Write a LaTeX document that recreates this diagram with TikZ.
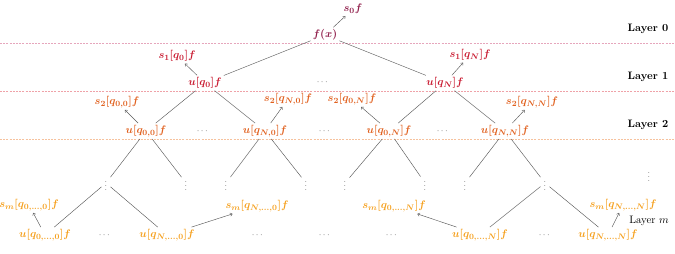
\documentclass[tikz,border=0pt]{standalone}
\usepackage{amsmath,amssymb,bm}
\usetikzlibrary{arrows.meta}

\definecolor{lzero}{HTML}{8E1B48}
\definecolor{lone}{HTML}{C8192F}
\definecolor{ltwo}{HTML}{E0601E}
\definecolor{lm}{HTML}{F5A01E}
\definecolor{sepzero}{HTML}{E6A6BC}
\definecolor{sepone}{HTML}{EFA2A8}
\definecolor{septwo}{HTML}{F6C29E}

\newcommand{\bigf}{\fontsize{10.8}{13}\selectfont}

\begin{document}
\begin{tikzpicture}[
    x=1pt, y=-1pt,
    >={To[length=2.4pt,width=3.6pt]},
    every node/.style={inner sep=2pt},
    lz/.style={text=lzero, font=\bigf\boldmath},
    lo/.style={text=lone, font=\bigf\boldmath},
    lt/.style={text=ltwo, font=\bigf\boldmath},
    lmm/.style={text=lm, font=\bigf\boldmath},
    dd/.style={text=black!70, font=\small, inner sep=0pt},
    vd/.style={text=black!70, font=\small, inner sep=3pt},
    lab/.style={font=\bigf\bfseries},
    link/.style={draw=black!65, line width=0.45pt},
    sepline/.style={dash pattern=on 2pt off 1.2pt, line width=0.5pt}
]
\useasboundingbox (0,0) rectangle (675,254);

% separators
\draw[sepline, sepzero] (0,43) -- (675,43);
\draw[sepline, sepone]  (0,91) -- (675,91);
\draw[sepline, septwo]  (0,139) -- (675,139);

% layer 0
\node[lz] (s0) at (353,9)  {$s_0 f$};
\node[lz] (fx) at (325,35) {$f(x)$};

% layer 1
\node[lo] (s1a) at (177,56) {$s_1[q_0]f$};
\node[lo] (ua)  at (205,83) {$u[q_0]f$};
\node[dd] (d1)  at (323,82) {$\cdots$};
\node[lo] (s1b) at (470,55) {$s_1[q_N]f$};
\node[lo] (ub)  at (445,83) {$u[q_N]f$};

% layer 2
\node[lt] (s2aa) at (117,102) {$s_2[q_{0,0}]f$};
\node[lt] (s2na) at (288,99)  {$s_2[q_{N,0}]f$};
\node[lt] (s2an) at (352,99)  {$s_2[q_{0,N}]f$};
\node[lt] (s2nn) at (532,102) {$s_2[q_{N,N}]f$};
\node[lt] (uaa) at (146,131) {$u[q_{0,0}]f$};
\node[dd] (d2)  at (203,131) {$\cdots$};
\node[lt] (una) at (265,131) {$u[q_{N,0}]f$};
\node[dd] (d3)  at (325,131) {$\cdots$};
\node[lt] (uan) at (389,131) {$u[q_{0,N}]f$};
\node[dd] (d4)  at (443,131) {$\cdots$};
\node[lt] (unn) at (505,131) {$u[q_{N,N}]f$};

% vertical dots
\node[vd] (v1) at (106,183) {$\vdots$};
\node[vd] (v2) at (186,183) {$\vdots$};
\node[vd] (v3) at (226,183) {$\vdots$};
\node[vd] (v4) at (306,183) {$\vdots$};
\node[vd] (v5) at (345,183) {$\vdots$};
\node[vd] (v6) at (425,183) {$\vdots$};
\node[vd] (v7) at (465,183) {$\vdots$};
\node[vd] (v8) at (545,183) {$\vdots$};
\node[vd] (v9) at (649,174) {$\vdots$};

% layer m
\node[lmm] (smaa) at (29,205)  {$s_m[q_{0,\dots,0}]f$};
\node[lmm] (smna) at (257,206) {$s_m[q_{N,\dots,0}]f$};
\node[lmm] (sman) at (394,206) {$s_m[q_{0,\dots,N}]f$};
\node[lmm] (smnn) at (623,205) {$s_m[q_{N,\dots,N}]f$};
\node[lmm] (wa) at (45,235)  {$u[q_{0,\dots,0}]f$};
\node[dd]  (d5) at (105,235) {$\cdots$};
\node[lmm] (wb) at (167,235) {$u[q_{N,\dots,0}]f$};
\node[dd]  (d6) at (258,235) {$\cdots$};
\node[dd]  (d7) at (325,235) {$\cdots$};
\node[dd]  (d8) at (392,235) {$\cdots$};
\node[lmm] (wc) at (480,235) {$u[q_{0,\dots,N}]f$};
\node[dd]  (d9) at (545,235) {$\cdots$};
\node[lmm] (wd) at (608,235) {$u[q_{N,\dots,N}]f$};

% layer labels
\node[lab] (L0) at (648,29)  {Layer 0};
\node[lab] (L1) at (648,77)  {Layer 1};
\node[lab] (L2) at (648,125) {Layer 2};
\node[font=\bigf] (Lm) at (649,221) {Layer $m$};

% tree
\draw[link] (fx) -- (ua);
\draw[link] (fx) -- (ub);
\draw[link] (ua) -- (uaa);
\draw[link] (ua) -- (una);
\draw[link] (ub) -- (uan);
\draw[link] (ub) -- (unn);
\draw[link] (uaa) -- (v1);
\draw[link] (uaa) -- (v2);
\draw[link] (una) -- (v3);
\draw[link] (una) -- (v4);
\draw[link] (uan) -- (v5);
\draw[link] (uan) -- (v6);
\draw[link] (unn) -- (v7);
\draw[link] (unn) -- (v8);
\draw[link] (v1) -- (wa);
\draw[link] (v1) -- (wb);
\draw[link] (v8) -- (wc);
\draw[link] (v8) -- (wd);

% outputs
\draw[link, ->] (fx) -- (s0);
\draw[link, ->] (ua) -- (s1a);
\draw[link, ->] (ub) -- (s1b);
\draw[link, ->] (uaa) -- (s2aa);
\draw[link, ->] (una) -- (s2na);
\draw[link, ->] (uan) -- (s2an);
\draw[link, ->] (unn) -- (s2nn);
\draw[link, ->] (wa) -- (smaa);
\draw[link, ->] (wb) -- (smna);
\draw[link, ->] (wc) -- (sman);
\draw[link, ->] (wd) -- (smnn);

\end{tikzpicture}
\end{document}
